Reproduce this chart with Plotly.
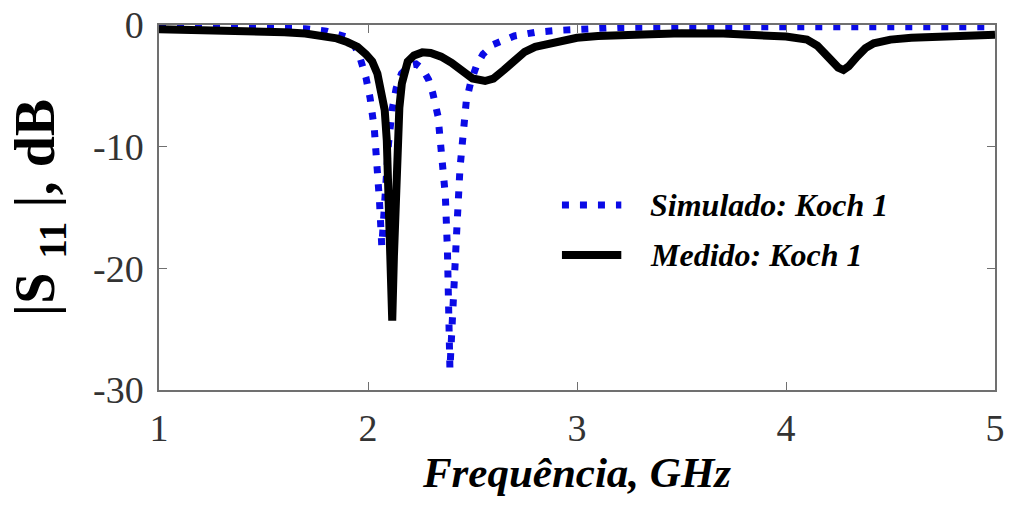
import plotly.graph_objects as go

# Simulated: Koch 1 (blue dotted)
sim_f = [1.0, 1.2, 1.4, 1.6, 1.7, 1.8, 1.85, 1.9, 1.93, 1.96, 1.99, 2.01, 2.03, 2.045,
         2.055, 2.066, 2.075, 2.085, 2.098, 2.115, 2.135, 2.16, 2.2, 2.23, 2.26, 2.29,
         2.31, 2.335, 2.355, 2.37, 2.38, 2.387, 2.392, 2.40, 2.41, 2.424, 2.44, 2.455,
         2.47, 2.49, 2.52, 2.55, 2.6, 2.7, 2.8, 2.9, 3.0, 3.2, 3.5, 4.0, 4.5, 5.0]
sim_db = [-0.2, -0.2, -0.2, -0.25, -0.3, -0.5, -0.7, -1.0, -1.5, -2.6, -4.3, -6.0, -8.5, -11.5,
          -14.5, -18.2, -15.5, -12.5, -9.8, -7.0, -5.2, -4.0, -3.3, -3.2, -3.6, -4.5,
          -5.6, -7.5, -10.5, -14.0, -18.5, -23.0, -28.3, -25.5, -21.0, -17.1, -11.8, -8.5,
          -6.3, -4.8, -3.3, -2.4, -1.6, -0.9, -0.6, -0.45, -0.33, -0.2, -0.15, -0.15, -0.15, -0.15]

# Measured: Koch 1 (black solid)
med_f = [1.0, 1.2, 1.4, 1.5, 1.6, 1.7, 1.8, 1.85, 1.9, 1.95, 1.99, 2.02, 2.045, 2.065,
         2.08, 2.09, 2.1, 2.108, 2.116, 2.124, 2.132, 2.14, 2.15, 2.162, 2.175, 2.19,
         2.22, 2.26, 2.3, 2.35, 2.4, 2.45, 2.5, 2.56, 2.6, 2.65, 2.7, 2.75, 2.8, 2.9,
         3.0, 3.1, 3.3, 3.5, 3.7, 3.9, 4.0, 4.1, 4.15, 4.2, 4.25, 4.275, 4.3, 4.34,
         4.38, 4.42, 4.5, 4.6, 4.8, 5.0]
med_db = [-0.35, -0.4, -0.45, -0.5, -0.6, -0.7, -0.9, -1.1, -1.4, -1.8, -2.4, -3.0, -4.0, -5.5,
          -7.0, -9.5, -14.0, -19.0, -24.3, -19.0, -14.0, -10.0, -6.8, -4.8, -3.6, -3.0,
          -2.5, -2.25, -2.3, -2.6, -3.1, -3.8, -4.4, -4.6, -4.4, -3.7, -2.9, -2.2, -1.8, -1.35,
          -1.05, -0.9, -0.75, -0.68, -0.7, -0.85, -0.95, -1.2, -1.7, -2.6, -3.5, -3.7, -3.4, -2.6,
          -1.9, -1.5, -1.2, -1.05, -0.9, -0.8]

x_ticks = [1, 2, 3, 4, 5]
y_ticks = [0, -10, -20, -30]
legend_names = ["Simulado: Koch 1", "Medido: Koch 1"]

SERIF = "Liberation Serif, Times New Roman, serif"
BLUE = "#0a0ae6"

fig = go.Figure()
fig.add_trace(go.Scatter(x=sim_f, y=sim_db, mode="lines", name=legend_names[0],
                         line=dict(color=BLUE, width=7, dash="7px,11px"), showlegend=False))
fig.add_trace(go.Scatter(x=med_f, y=med_db, mode="lines", name=legend_names[1],
                         line=dict(color="black", width=8), showlegend=False))

# manual legend (sample lines + labels)
leg_y = [0.507, 0.370]
fig.add_shape(type="line", xref="paper", yref="paper", x0=0.482, x1=0.553, y0=leg_y[0], y1=leg_y[0],
              line=dict(color=BLUE, width=7, dash="7px,11px"))
fig.add_shape(type="line", xref="paper", yref="paper", x0=0.482, x1=0.553, y0=leg_y[1], y1=leg_y[1],
              line=dict(color="black", width=8))
for name, yy in zip(legend_names, leg_y):
    fig.add_annotation(xref="paper", yref="paper", x=0.585, y=yy, text=f"<b><i>{name}</i></b>",
                       showarrow=False, xanchor="left", yanchor="middle",
                       font=dict(family=SERIF, size=32, color="black"))

axis_common = dict(showline=True, linecolor="#707070", linewidth=1.5, mirror="ticks",
                   ticks="inside", ticklen=8, tickcolor="#707070", tickwidth=1.2,
                   showgrid=False, zeroline=False, automargin=False,
                   ticklabeloverflow="allow",
                   tickfont=dict(family=SERIF, size=38, color="#333333"))

fig.update_layout(
    width=1009, height=507,
    margin=dict(l=159, r=14, t=25, b=117),
    paper_bgcolor="white", plot_bgcolor="white",
    xaxis=dict(range=[1, 5], tickvals=x_ticks, ticktext=[str(v) for v in x_ticks],
               ticklabelstandoff=4,
               title=dict(text="<b><i>Frequência, GHz</i></b>", standoff=6,
                          font=dict(family=SERIF, size=43, color="black")),
               **axis_common),
    yaxis=dict(range=[-30, 0], tickvals=y_ticks, ticktext=[str(v) for v in y_ticks],
               ticklabelstandoff=6,
               title=dict(text="<b>|S <sub>11</sub> |, dB</b>", standoff=20,
                          font=dict(family=SERIF, size=56, color="black")),
               **axis_common),
)

# remove the default page margin so the figure fills the window exactly
fig.write_html("out.html", config={"displayModeBar": False},
               post_script="document.body.style.margin='0px';")
